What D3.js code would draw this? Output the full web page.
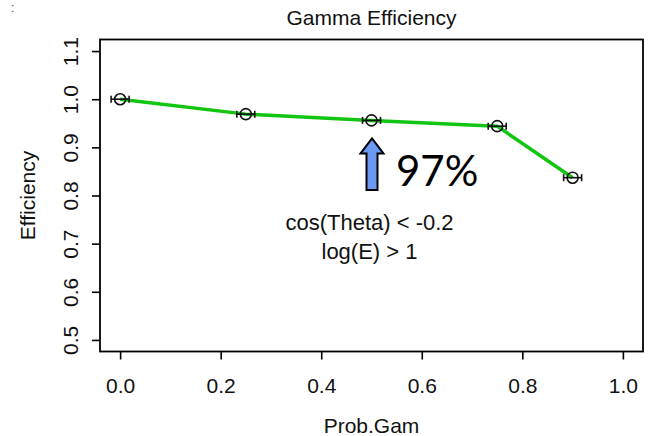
<!DOCTYPE html>
<html>
<head>
<meta charset="utf-8">
<script src="https://cdn.jsdelivr.net/npm/d3@7"></script>
<style>
  html, body { margin: 0; padding: 0; background: #fff; }
  svg { display: block; font-family: "Liberation Sans", Arial, sans-serif; }
</style>
</head>
<body>
<svg id="chart" width="649" height="436"></svg>
<script>
// Gamma efficiency vs photon probability cut
const probGam = [0.0, 0.25, 0.5, 0.75, 0.9];
const efficiency = [1.0, 0.969, 0.956, 0.944, 0.837];
const xTicks = [0.0, 0.2, 0.4, 0.6, 0.8, 1.0];
const yTicks = [0.5, 0.6, 0.7, 0.8, 0.9, 1.0, 1.1];
const cutLines = ["cos(Theta) < -0.2", "log(E) > 1"];
const highlightIndex = 2;
const highlightLabel = "97%";

const svg = d3.select("#chart");
const box = { left: 100, right: 643, top: 39.5, bottom: 351.5 };

// R-style 4% padding around the limits
const xLim = [0, 1], yLim = [0.5, 1.1];
const xPad = (xLim[1] - xLim[0]) * 0.04, yPad = (yLim[1] - yLim[0]) * 0.04;
const x = d3.scaleLinear().domain([xLim[0] - xPad, xLim[1] + xPad]).range([box.left, box.right]);
const y = d3.scaleLinear().domain([yLim[0] - yPad, yLim[1] + yPad]).range([box.bottom, box.top]);

const fs = 21;

// Plot frame
svg.append("rect")
  .attr("x", box.left).attr("y", box.top)
  .attr("width", box.right - box.left).attr("height", box.bottom - box.top)
  .attr("fill", "none").attr("stroke", "#000").attr("stroke-width", 1.8);

// Bottom axis
const xAxis = svg.append("g").attr("transform", `translate(0,${box.bottom})`)
  .call(d3.axisBottom(x).tickValues(xTicks).tickSize(8).tickFormat(d3.format(".1f")));
xAxis.select(".domain").remove();
xAxis.selectAll(".tick line").attr("stroke", "#000").attr("stroke-width", 1.6);
xAxis.selectAll(".tick text").attr("font-size", fs).attr("font-family", "Liberation Sans, Arial, sans-serif")
  .attr("fill", "#111").attr("dy", null).attr("y", 0).attr("transform", "translate(0,41)");

// Left axis with rotated labels
const yAxis = svg.append("g").attr("transform", `translate(${box.left},0)`)
  .call(d3.axisLeft(y).tickValues(yTicks).tickSize(8).tickFormat(d3.format(".1f")));
yAxis.select(".domain").remove();
yAxis.selectAll(".tick line").attr("stroke", "#000").attr("stroke-width", 1.6);
yAxis.selectAll(".tick text").attr("font-size", fs).attr("font-family", "Liberation Sans, Arial, sans-serif")
  .attr("fill", "#111").attr("x", 0).attr("dy", null).attr("text-anchor", "middle")
  .attr("transform", "translate(-30,0) rotate(-90) translate(0,8)");

// Titles
const cx = (box.left + box.right) / 2;
svg.append("text").attr("x", cx).attr("y", 25).attr("text-anchor", "middle")
  .attr("font-size", fs).attr("fill", "#111").text("Gamma Efficiency");
svg.append("text").attr("x", cx).attr("y", 433).attr("text-anchor", "middle")
  .attr("font-size", fs).attr("fill", "#111").text("Prob.Gam");
svg.append("text").attr("transform", `translate(35,${(box.top + box.bottom) / 2}) rotate(-90)`)
  .attr("text-anchor", "middle").attr("font-size", fs).attr("fill", "#111").text("Efficiency");

// Small stray mark in the corner
svg.append("text").attr("x", 11).attr("y", 12).attr("font-size", 12).attr("fill", "#555").text(":");

// Efficiency curve
const line = d3.line().x((d, i) => x(probGam[i])).y(d => y(d));
svg.append("path").datum(efficiency).attr("d", line)
  .attr("fill", "none").attr("stroke", "#11c511").attr("stroke-width", 3.5).attr("stroke-linejoin", "round");

// Markers: open circle with horizontal bar and end caps
const mk = svg.append("g").selectAll("g").data(efficiency).join("g")
  .attr("transform", (d, i) => `translate(${x(probGam[i])},${y(d)})`)
  .attr("stroke", "#111").attr("stroke-width", 1.6).attr("fill", "none");
mk.append("circle").attr("r", 5.5);
mk.append("line").attr("x1", -9).attr("x2", 9).attr("y1", 0).attr("y2", 0);
mk.append("line").attr("x1", -9).attr("x2", -9).attr("y1", -3.5).attr("y2", 3.5);
mk.append("line").attr("x1", 9).attr("x2", 9).attr("y1", -3.5).attr("y2", 3.5);

// Cut annotations
cutLines.forEach((t, i) => {
  svg.append("text").attr("x", cx - 2).attr("y", 230 + i * 29).attr("text-anchor", "middle")
    .attr("font-size", fs + 1).attr("fill", "#111").text(t);
});

// Arrow pointing at the highlighted point
const ax = x(probGam[highlightIndex]) + 0.5;
const ay = y(efficiency[highlightIndex]);
const tip = ay + 18, headBase = tip + 15, tail = 190, hw = 11.5, sw = 5.5;
svg.append("path")
  .attr("d", `M${ax},${tip} L${ax + hw},${headBase} L${ax + sw},${headBase} L${ax + sw},${tail} L${ax - sw},${tail} L${ax - sw},${headBase} L${ax - hw},${headBase} Z`)
  .attr("fill", "#6b98f0").attr("stroke", "#000").attr("stroke-width", 2).attr("stroke-linejoin", "miter");

svg.append("text").attr("x", 396).attr("y", 186).attr("font-family", "Lato, 'Noto Sans', sans-serif")
  .attr("font-size", 42).attr("fill", "#000").text(highlightLabel);
</script>
</body>
</html>
